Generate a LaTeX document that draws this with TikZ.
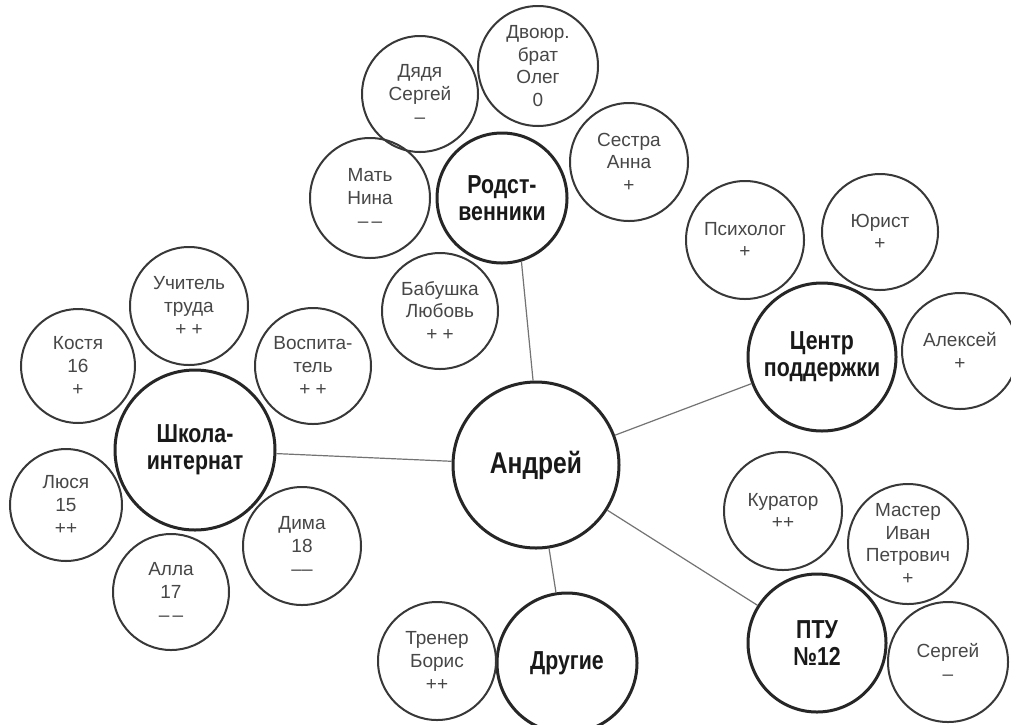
\documentclass[tikz,border=0pt]{standalone}
\usepackage{fontspec}
\setmainfont{Liberation Sans}
\newfontfamily\hubfont[FakeStretch=0.82]{Liberation Sans}
\tikzset{
  hub/.style={circle, draw=black!85, line width=1.5pt, inner sep=0pt, align=center,
    font=\hubfont\bfseries\fontsize{13}{13.5}\selectfont, text=black!90},
  leaf/.style={circle, draw=black!78, line width=1pt, inner sep=0pt, align=center,
    font=\fontsize{9.5}{11.3}\selectfont, text=black!72},
  link/.style={draw=black!55, line width=0.6pt}
}
\begin{document}
\begin{tikzpicture}[x=0.5pt, y=-0.5pt]
\useasboundingbox (0,0) rectangle (1011,724);
\clip (0,0) rectangle (1011,724);
\fill[white] (0,0) rectangle (1011,724);
% hubs
\node[hub, minimum size=83pt, font=\hubfont\bfseries\fontsize{15}{15}\selectfont] (andrey) at (536,465) {Андрей};
\node[hub, minimum size=65pt] (rod) at (502,198) {Родст-\\венники};
\node[hub, minimum size=80pt] (school) at (195,450) {Школа-\\интернат};
\node[hub, minimum size=74pt] (center) at (822,357) {Центр\\поддержки};
\node[hub, minimum size=69pt] (ptu) at (817,643) {ПТУ\\№12};
\node[hub, minimum size=70pt] (other) at (567,663) {Другие};
% leaves
\node[leaf, minimum size=58pt] (uncle) at (420,94) {Дядя\\Сергей\\–};
\node[leaf, minimum size=60pt] (cousin) at (538,66) {Двоюр.\\брат\\Олег\\0};
\node[leaf, minimum size=59pt] (sister) at (629,162) {Сестра\\Анна\\+};
\node[leaf, minimum size=60pt] (mother) at (370,198) {Мать\\Нина\\–\,–};
\node[leaf, minimum size=58pt] (grandma) at (440,311) {Бабушка\\Любовь\\+ +};
\node[leaf, minimum size=59pt] (teacher) at (189,306) {Учитель\\труда\\+ +};
\node[leaf, minimum size=57pt] (kostya) at (78,366) {Костя\\16\\+};
\node[leaf, minimum size=58pt] (vosp) at (313,366) {Воспита-\\тель\\+ +};
\node[leaf, minimum size=56pt] (lyusya) at (66,505) {Люся\\15\\++};
\node[leaf, minimum size=58pt] (alla) at (171,592) {Алла\\17\\–\,–};
\node[leaf, minimum size=59pt] (dima) at (302,546) {Дима\\18\\––};
\node[leaf, minimum size=59pt] (psych) at (745,240) {Психолог\\+};
\node[leaf, minimum size=58pt] (lawyer) at (880,232) {Юрист\\+};
\node[leaf, minimum size=58pt] (aleksey) at (960,351) {Алексей\\+};
\node[leaf, minimum size=59pt] (curator) at (783,511) {Куратор\\++};
\node[leaf, minimum size=60pt] (master) at (908,544) {Мастер\\Иван\\Петрович\\+};
\node[leaf, minimum size=60pt] (sergey) at (948,662) {Сергей\\–};
\node[leaf, minimum size=59pt] (coach) at (437,661) {Тренер\\Борис\\++};
% connectors
\draw[link] (rod.-73) -- (andrey.92);
\draw[link] (school) -- (andrey);
\draw[link] (andrey) -- (center);
\draw[link] (andrey) -- (ptu);
\draw[link] (andrey) -- (other);
\end{tikzpicture}
\end{document}
